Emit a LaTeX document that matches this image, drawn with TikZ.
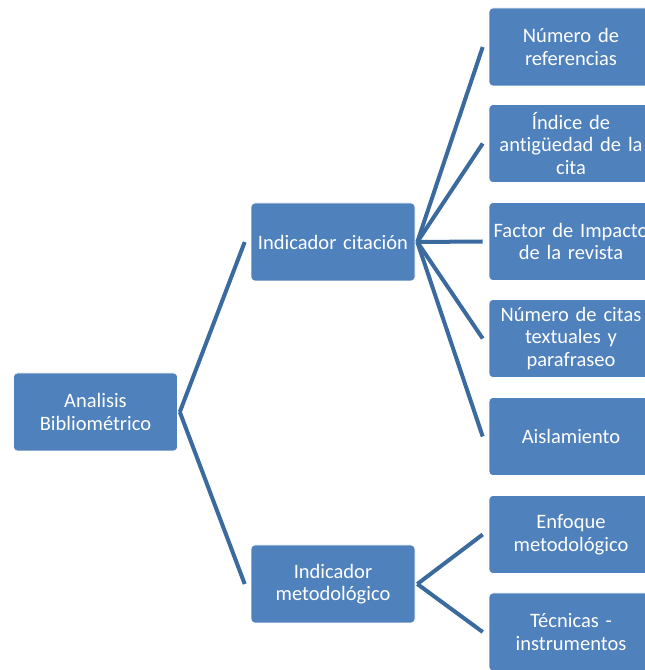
\documentclass[tikz,border=0pt]{standalone}
\usepackage{fontspec}
\setmainfont{Carlito}[Ligatures=NoCommon]
\definecolor{boxblue}{RGB}{79,129,189}
\definecolor{lineblue}{RGB}{58,106,158}
\begin{document}
\begin{tikzpicture}[x=1pt,y=1pt,
  box/.style={rectangle, rounded corners=4pt, fill=boxblue, draw=white, line width=0.6pt,
    minimum width=164pt, minimum height=78pt, text width=160pt, align=center,
    text=white, inner sep=0pt, font=\fontsize{20.5}{22.5}\selectfont},
  conn/.style={draw=lineblue, line width=4pt}]
\useasboundingbox (0,0) rectangle (645,670);
\clip (0,0) rectangle (645,670);
\node[box] (root) at (95.5,258) {Analisis\\Bibliométrico};
\node[box] (cit) at (333,428) {Indicador citación};
\node[box] (met) at (333,86) {Indicador\\metodológico};
\node[box] (c1) at (571,623) {Número de\\referencias};
\node[box] (c2) at (571,526.5) {Índice de\\antigüedad de la\\cita};
\node[box] (c3) at (571,428.5) {Factor de Impacto\\de la revista};
\node[box] (c4) at (571,331.5) {Número de citas\\textuales y\\parafraseo};
\node[box] (c5) at (571,233.5) {Aislamiento};
\node[box] (m1) at (571,135.5) {Enfoque\\metodológico};
\node[box] (m2) at (571,38) {Técnicas -\\instrumentos};
\foreach \p/\c in {root/cit, root/met, cit/c1, cit/c2, cit/c3, cit/c4, cit/c5, met/m1, met/m2}{
  \draw[conn] ([xshift=2pt]\p.east) -- ([xshift=-6pt]\c.west);
}
\end{tikzpicture}
\end{document}
